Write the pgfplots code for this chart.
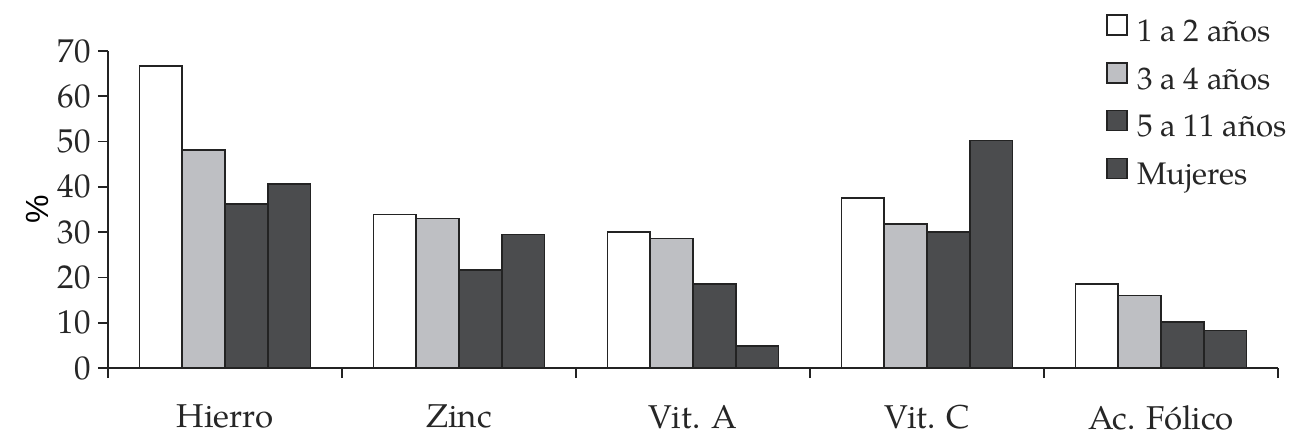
\documentclass[border=0pt]{standalone}
\usepackage{fontspec}
\setmainfont{TeX Gyre Pagella}
\setsansfont{Liberation Sans}
\usepackage{pgfplots}
\pgfplotsset{compat=1.18}
\definecolor{cgray}{RGB}{190,191,195}
\definecolor{cdark}{RGB}{75,76,78}
\definecolor{cedge}{RGB}{35,35,35}
\begin{document}
\begin{tikzpicture}
\begin{axis}[
  scale only axis,
  width=585pt, height=158.5pt,
  xmin=-0.5, xmax=4.5, ymin=0, ymax=70,
  axis lines=left,
  axis line style={-, line width=0.8pt, cedge},
  ybar=0pt, bar width=21.4pt,
  xtick={-0.5,0.5,1.5,2.5,3.5,4.5},
  xticklabels={},
  extra x ticks={0,1,2,3,4},
  extra x tick labels={Hierro,Zinc,Vit. A,Vit. C,Ac. Fólico},
  extra x tick style={major tick length=0pt, tick style={draw=none},
    xticklabel style={yshift=-15pt}},
  ytick={0,10,...,70},
  tick align=outside,
  major tick length=5pt,
  tick style={line width=0.8pt, cedge},
  /pgf/number format/assume math mode=true,
  ticklabel style={font=\fontsize{16.5}{19}\selectfont, text=black!85},
  ylabel={\sffamily\%},
  ylabel style={font=\fontsize{16}{19}\selectfont, yshift=-2pt},
  every axis plot/.append style={draw=cedge, line width=0.8pt},
  legend style={at={(rel axis cs:0.853,1.117)}, anchor=north west, draw=none,
    fill=none, font=\fontsize{15.6}{18}\selectfont, row sep=6.8pt,
    inner sep=0pt, text=black!85},
  legend cell align=left,
  legend image code/.code={\draw[#1] (0pt,-1.5pt) rectangle (10pt,8.5pt); \path (12.5pt,0pt);},
  clip=false,
]
\addplot[fill=white] coordinates {(0,66.7) (1,33.9) (2,30.0) (3,37.5) (4,18.5)};
\addplot[fill=cgray] coordinates {(0,48.1) (1,33.0) (2,28.6) (3,31.8) (4,16.0)};
\addplot[fill=cdark] coordinates {(0,36.2) (1,21.6) (2,18.5) (3,30.0) (4,10.2)};
\addplot[fill=cdark] coordinates {(0,40.6) (1,29.5) (2,4.9) (3,50.2) (4,8.3)};
\legend{1 a 2 años, 3 a 4 años, 5 a 11 años, Mujeres}
\end{axis}
\pgfresetboundingbox
\path[use as bounding box] (-54pt,-34pt) rectangle (591pt,184pt);
\end{tikzpicture}
\end{document}
